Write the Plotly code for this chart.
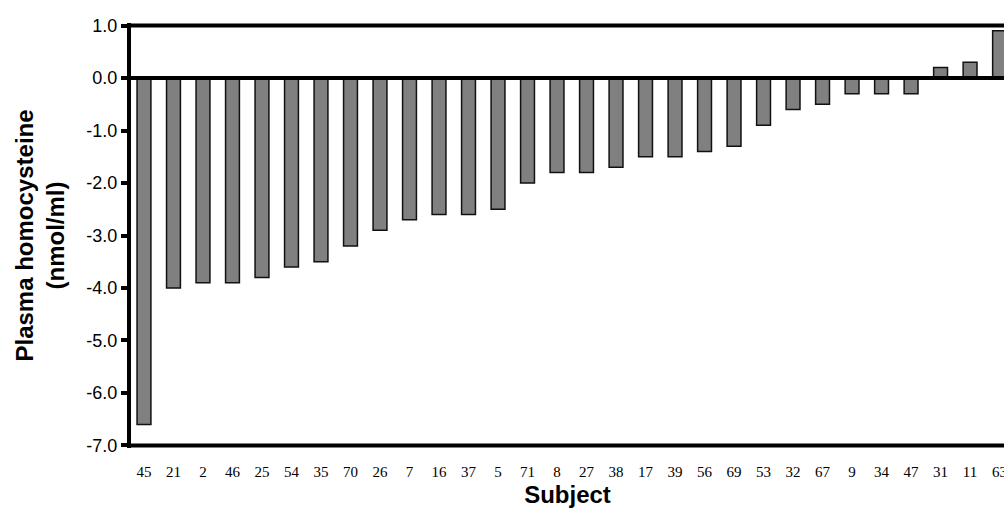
import plotly.graph_objects as go

subjects = ["45", "21", "2", "46", "25", "54", "35", "70", "26", "7", "16", "37", "5", "71", "8",
            "27", "38", "17", "39", "56", "69", "53", "32", "67", "9", "34", "47", "31", "11", "63"]
change = [-6.6, -4.0, -3.9, -3.9, -3.8, -3.6, -3.5, -3.2, -2.9, -2.7, -2.6, -2.6, -2.5, -2.0, -1.8,
          -1.8, -1.7, -1.5, -1.5, -1.4, -1.3, -0.9, -0.6, -0.5, -0.3, -0.3, -0.3, 0.2, 0.3, 0.9]
y_ticks = [1.0, 0.0, -1.0, -2.0, -3.0, -4.0, -5.0, -6.0, -7.0]
y_min, y_max = -7.0, 1.0

fig = go.Figure()
fig.add_trace(go.Bar(
    x=subjects, y=change, width=0.47,
    marker=dict(color="#808080", line=dict(color="#111111", width=1.5)),
    showlegend=False,
))

line_style = dict(color="black", width=4)
for yv in (y_max, 0.0, y_min):
    fig.add_shape(type="line", xref="paper", yref="y", x0=0, x1=1, y0=yv, y1=yv,
                  line=line_style, layer="above")

fig.update_layout(
    width=1004, height=513,
    margin=dict(l=131, r=0, t=23, b=65, autoexpand=False),
    paper_bgcolor="white", plot_bgcolor="white",
)
fig.update_xaxes(
    type="category", range=[-0.44, 29.15], automargin=False,
    showline=False, showgrid=False, zeroline=False, ticks="",
    tickfont=dict(family="Liberation Serif", size=15, color="black"),
    ticklabelstandoff=13,
    title=dict(text="<b>Subject</b>", font=dict(family="Liberation Sans", size=24, color="black"),
               standoff=7),
)
fig.update_yaxes(
    range=[y_min - 0.05, y_max + 0.05], automargin=False,
    tickvals=y_ticks, ticktext=[f"{v:.1f}" for v in y_ticks],
    showline=True, linecolor="black", linewidth=4,
    ticks="outside", ticklen=6, tickwidth=4, tickcolor="black",
    showgrid=False, zeroline=False,
    tickfont=dict(family="Liberation Sans", size=18, color="black"),
    title=dict(text="<b>Plasma homocysteine<br>(nmol/ml)</b>",
               font=dict(family="Liberation Sans", size=24, color="black"), standoff=16),
)
fig.write_html(
    "out.html",
    config={"displayModeBar": False},
    post_script="document.body.style.margin='0px';document.body.style.overflow='hidden';",
)
